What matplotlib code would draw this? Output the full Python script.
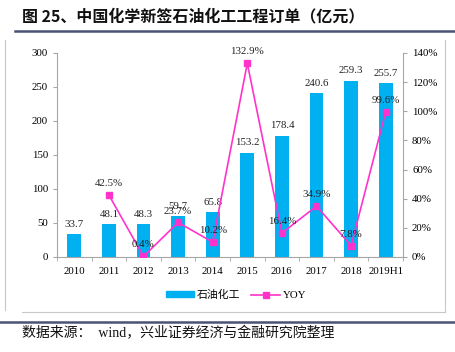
import matplotlib.pyplot as plt
import matplotlib.lines as mlines
import matplotlib.patches as mpatches
import numpy as np

years = ["2010", "2011", "2012", "2013", "2014", "2015", "2016", "2017", "2018", "2019H1"]
orders = [33.7, 48.1, 48.3, 59.7, 65.8, 153.2, 178.4, 240.6, 259.3, 255.7]
yoy_years = ["2011", "2012", "2013", "2014", "2015", "2016", "2017", "2018", "2019H1"]
yoy = [42.5, 0.4, 23.7, 10.2, 132.9, 16.4, 34.9, 7.8, 99.6]

plt.rcParams['font.family'] = ['Liberation Serif', 'Noto Sans CJK SC']
blue = '#00B0F0'
pink = '#FF33CC'
grey = '#A6A6A6'
fs = 7.8

fig = plt.figure(figsize=(4.56, 3.52), dpi=100)
ax = fig.add_axes([57 / 456, 1 - 257 / 352, 346 / 456, 204 / 352])

x = np.arange(len(years))
ax.bar(x, orders, width=0.4, color=blue, zorder=2)
for xi, v in zip(x, orders):
    ax.annotate(f"{v}", (xi, v), xytext=(0, 4), textcoords='offset points',
                ha='center', va='bottom', fontsize=fs, color='#222222')

ax.set_xlim(-0.5, len(years) - 0.5)
ax.set_ylim(0, 300)
ax.set_yticks(range(0, 301, 50))
ax.set_xticks(x)
ax.set_xticklabels(years)
ax.set_xticks(np.arange(-0.5, len(years)), minor=True)
ax.tick_params(axis='x', which='major', length=0, pad=7, labelsize=fs)
ax.tick_params(axis='x', which='minor', length=3, color=grey)
ax.tick_params(axis='y', length=3, color=grey, labelsize=fs)
for s in ['top', 'right']:
    ax.spines[s].set_visible(False)
for s in ['left', 'bottom']:
    ax.spines[s].set_color(grey)
    ax.spines[s].set_linewidth(0.8)

ax2 = ax.twinx()
xp = [years.index(y) for y in yoy_years]
ax2.plot(xp, yoy, color=pink, lw=1.2, marker='s', ms=5, zorder=3)
for xi, v in zip(xp, yoy):
    ax2.annotate(f"{v}%", (xi, v), xytext=(0, 5), textcoords='offset points',
                 ha='center', va='bottom', fontsize=fs, color='#222222')
ax2.set_ylim(0, 140)
ax2.set_yticks(range(0, 141, 20))
ax2.set_yticklabels([f"{t}%" for t in range(0, 141, 20)])
ax2.tick_params(axis='y', length=3, color=grey, labelsize=fs)
for s in ['top', 'left', 'bottom']:
    ax2.spines[s].set_visible(False)
ax2.spines['right'].set_color(grey)
ax2.spines['right'].set_linewidth(0.8)

h1 = mpatches.Patch(color=blue, label='石油化工')
h2 = mlines.Line2D([], [], color=pink, marker='s', ms=5, lw=1.2, label='YOY')
fig.legend(handles=[h1, h2], loc='center', bbox_to_anchor=(236 / 456, 1 - 295 / 352),
           ncol=2, frameon=False, handlelength=2.6, handleheight=0.45,
           columnspacing=1.0, handletextpad=0.3,
           prop={'family': ['Liberation Serif', 'Noto Sans CJK SC'], 'size': fs})

# title and frame
fig.text(22 / 456, 1 - 16 / 352, "图 25、中国化学新签石油化工工程订单（亿元）",
         fontsize=11.5, fontweight='bold', family=['Noto Sans CJK SC'],
         va='center', ha='left', color='#111111')
fig.add_artist(mlines.Line2D([15 / 456, 1], [1 - 31 / 352] * 2, color='#4B5275', lw=1.8))
fig.add_artist(mlines.Line2D([0, 1], [1 - 322 / 352] * 2, color='#4B5275', lw=1.8))
fig.add_artist(mlines.Line2D([5 / 456, 5 / 456], [1 - 40 / 352, 1 - 310 / 352], color='#C8C8C8', lw=0.8))
fig.add_artist(mlines.Line2D([22 / 456, 445 / 456], [1 - 312 / 352] * 2, color='#C8C8C8', lw=0.8))
fig.add_artist(mlines.Line2D([445 / 456, 445 / 456], [1 - 40 / 352, 1 - 312 / 352], color='#C8C8C8', lw=0.8))
fig.text(22 / 456, 1 - 333 / 352, "数据来源：  wind，兴业证券经济与金融研究院整理",
         fontsize=10, family=['Liberation Serif', 'Noto Sans CJK SC'], va='center', ha='left',
         color='#111111')

fig.savefig('out.png', dpi=100)
